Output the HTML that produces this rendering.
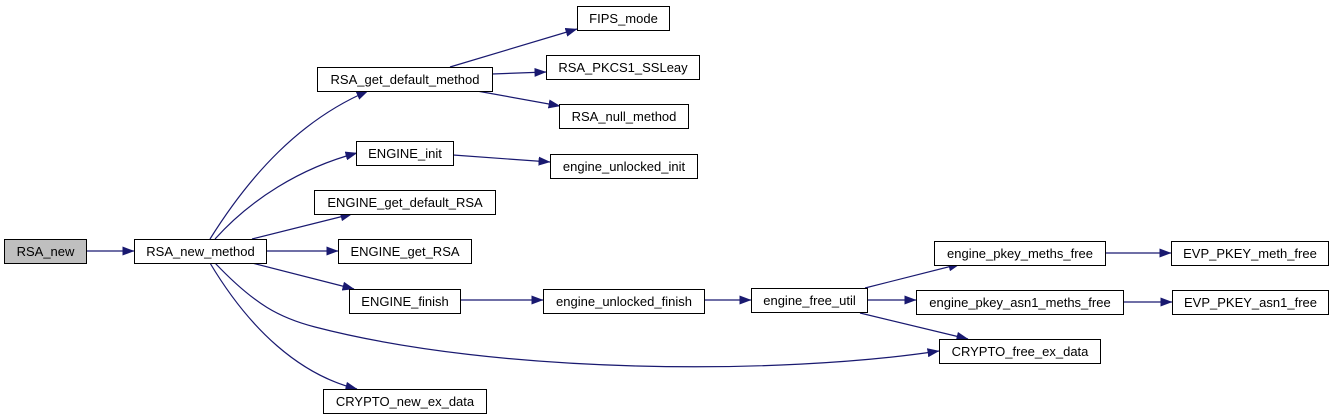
<!DOCTYPE html>
<html><head><meta charset="utf-8"><style>
html,body{margin:0;padding:0;background:#fff;}
svg{display:block;}
text{font-family:"Liberation Sans",Helvetica,sans-serif;font-size:13px;fill:#000;}
</style></head><body>
<svg width="1335" height="420" viewBox="0 0 1335 420" xmlns="http://www.w3.org/2000/svg">
<defs>
<marker id="a" markerWidth="12" markerHeight="9" refX="11.5" refY="4.5" orient="auto" markerUnits="userSpaceOnUse">
<path d="M0,0 L12,4.5 L0,9 z" fill="#191970"/>
</marker>
</defs>
<g fill="none" stroke="#191970" stroke-width="1.2" marker-end="url(#a)">
<path d="M86,251 L134,251"/>
<path d="M210,239 C250,175 300,120 368,91"/>
<path d="M215,239 C250,200 300,168 357,153"/>
<path d="M252,239 L352,214"/>
<path d="M267,251 L338,251"/>
<path d="M252,263 L354,289"/>
<path d="M215,263 C255,305 280,318 315,327 C500,375 780,375 939,351"/>
<path d="M210,263 C250,330 300,375 357,389"/>
<path d="M450,67 L577,29"/>
<path d="M492,74 L546,72"/>
<path d="M477,91 L560,106"/>
<path d="M453,155 L550,162"/>
<path d="M460,300 L543,300"/>
<path d="M704,300 L751,300"/>
<path d="M865,288 L960,264"/>
<path d="M868,300 L916,300"/>
<path d="M860,313 L968,339"/>
<path d="M1105,253 L1171,253"/>
<path d="M1123,302 L1172,302"/>
</g>
<g stroke="#000" stroke-width="1" fill="#fff">
<rect x="4.5" y="239.5" width="82" height="24" fill="#bfbfbf"/>
<rect x="134.5" y="239.5" width="132" height="24"/>
<rect x="317.5" y="67.5" width="175" height="24"/>
<rect x="577.5" y="6.5" width="92" height="24"/>
<rect x="546.5" y="55.5" width="153" height="24"/>
<rect x="559.5" y="104.5" width="129" height="24"/>
<rect x="356.5" y="141.5" width="97" height="24"/>
<rect x="550.5" y="154.5" width="147" height="24"/>
<rect x="314.5" y="190.5" width="181" height="24"/>
<rect x="338.5" y="239.5" width="133" height="24"/>
<rect x="349.5" y="289.5" width="111" height="24"/>
<rect x="543.5" y="289.5" width="161" height="24"/>
<rect x="751.5" y="288.5" width="116" height="24"/>
<rect x="934.5" y="241.5" width="171" height="24"/>
<rect x="1171.5" y="241.5" width="157" height="24"/>
<rect x="916.5" y="290.5" width="207" height="24"/>
<rect x="1172.5" y="290.5" width="156" height="24"/>
<rect x="939.5" y="339.5" width="161" height="24"/>
<rect x="323.5" y="389.5" width="163" height="24"/>
</g>
<g text-anchor="middle">
<text x="45.5" y="256">RSA_new</text>
<text x="200.5" y="256">RSA_new_method</text>
<text x="405" y="84">RSA_get_default_method</text>
<text x="623.5" y="23">FIPS_mode</text>
<text x="623" y="72">RSA_PKCS1_SSLeay</text>
<text x="624" y="121">RSA_null_method</text>
<text x="405" y="158">ENGINE_init</text>
<text x="624" y="171">engine_unlocked_init</text>
<text x="405" y="207">ENGINE_get_default_RSA</text>
<text x="405" y="256">ENGINE_get_RSA</text>
<text x="405" y="306">ENGINE_finish</text>
<text x="624" y="306">engine_unlocked_finish</text>
<text x="809.5" y="305">engine_free_util</text>
<text x="1020" y="258">engine_pkey_meths_free</text>
<text x="1250" y="258">EVP_PKEY_meth_free</text>
<text x="1020" y="307">engine_pkey_asn1_meths_free</text>
<text x="1250.5" y="307">EVP_PKEY_asn1_free</text>
<text x="1020" y="356">CRYPTO_free_ex_data</text>
<text x="405" y="406">CRYPTO_new_ex_data</text>
</g>
</svg>
</body></html>
